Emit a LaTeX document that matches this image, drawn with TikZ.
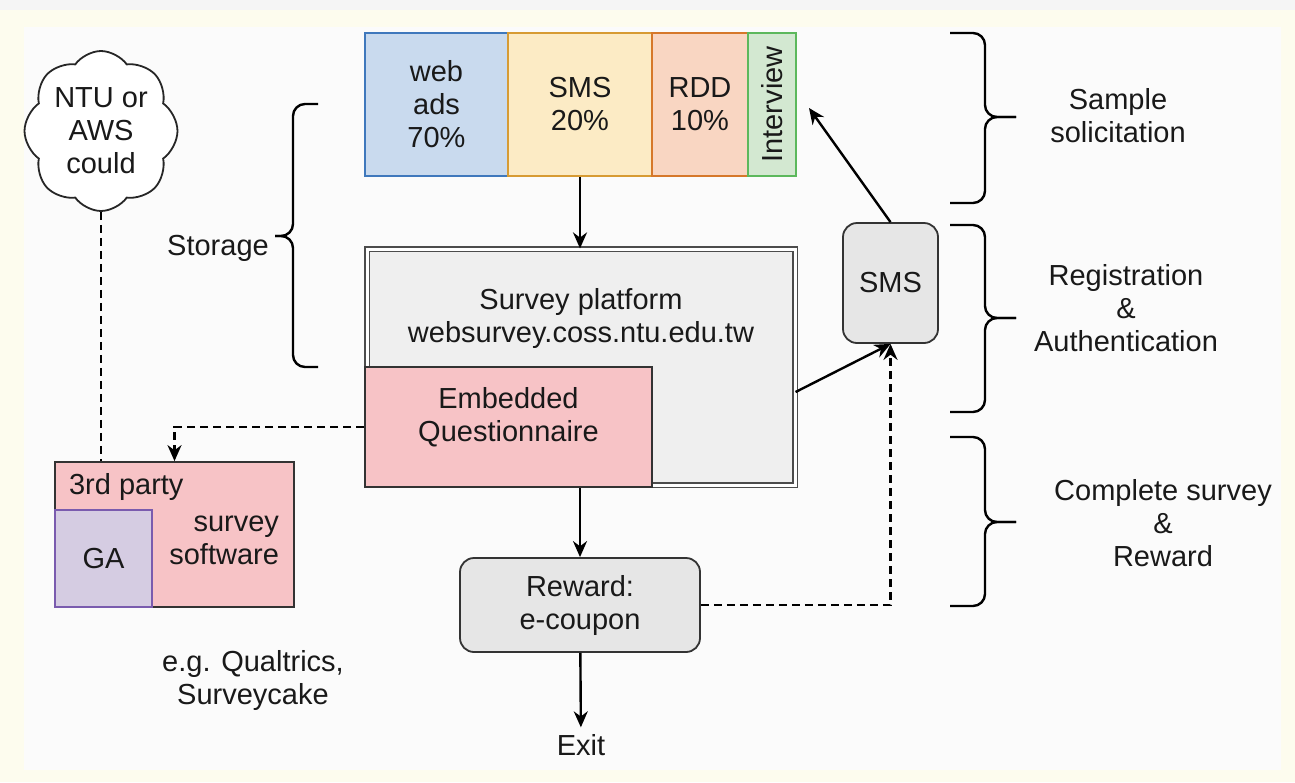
\documentclass[tikz,border=0pt]{standalone}
\usepackage{fontspec}
\setmainfont{Liberation Sans}
\usepackage{tikz}
\usetikzlibrary{arrows.meta,shapes.symbols}
\definecolor{bgcream}{HTML}{FDFCEE}
\definecolor{bginner}{HTML}{FBFBFB}
\definecolor{webfill}{HTML}{C9DAEE}
\definecolor{webline}{HTML}{3F78BC}
\definecolor{smsfill}{HTML}{FCEBC5}
\definecolor{smsline}{HTML}{D79B33}
\definecolor{rddfill}{HTML}{F9D6C2}
\definecolor{rddline}{HTML}{D6782A}
\definecolor{intvfill}{HTML}{D3E8D1}
\definecolor{intvline}{HTML}{5CB85C}
\definecolor{pfgray}{HTML}{EFEFEF}
\definecolor{boxgray}{HTML}{E6E6E6}
\definecolor{pinkfill}{HTML}{F7C3C6}
\definecolor{gafill}{HTML}{D5CCE2}
\definecolor{galine}{HTML}{7A5BAE}

\begin{document}
\begin{tikzpicture}[x=0.5pt,y=-0.5pt,
    >={Stealth[length=8pt,width=7pt]},
    every node/.style={font=\fontsize{14.5}{16.5}\selectfont, align=center, text=black!90},
    box/.style={draw=black!80, line width=0.9pt, inner sep=0pt},
    conn/.style={line width=1.2pt},
    dashconn/.style={line width=1.2pt, dash pattern=on 4pt off 2.5pt},
    bracket/.style={line width=1.2pt, rounded corners=6pt}]
        \useasboundingbox (0,0) rectangle (1295,782);
        \fill[black!4] (0,0) rectangle (1295,10);
        \fill[bgcream] (0,10) rectangle (1295,782);
        \fill[bginner] (24,27) rectangle (1281,770);

        \node[box, draw=webline, fill=webfill, minimum width=71.5pt, minimum height=71.5pt] (web) at (436.5,104.5) {web\\ads\\70\%};
        \node[box, draw=smsline, fill=smsfill, minimum width=72pt, minimum height=71.5pt] (smsbar) at (580,104.5) {SMS\\20\%};
        \node[box, draw=rddline, fill=rddfill, minimum width=48pt, minimum height=71.5pt] (rdd) at (700,104.5) {RDD\\10\%};
        \node[box, draw=intvline, fill=intvfill, rotate=90, minimum width=71.5pt, minimum height=24pt] (intv) at (772,104.5) {Interview};
        \coordinate (intvtip) at (809,108);

        \node[draw=black!70, line width=0.6pt, double, double distance=1.5pt, fill=pfgray, minimum width=214pt, minimum height=118pt] (platform) at (581,367) {};
        \node (pftext) at (581,318) {Survey platform\\websurvey.coss.ntu.edu.tw};
        \node[box, fill=pinkfill, text depth=13pt, minimum width=143.5pt, minimum height=60pt] (embq) at (508.5,427) {Embedded\\Questionnaire};

        \node[box, rounded corners=7pt, fill=boxgray, minimum width=120pt, minimum height=47pt] (reward) at (580,605) {Reward:\\e-coupon};
        \node (exit) at (581,745) {Exit};
        \node[box, rounded corners=7pt, fill=boxgray, minimum width=47.5pt, minimum height=60pt] (smsbox) at (890.5,283) {SMS};

        \node[box, fill=pinkfill, minimum width=119.5pt, minimum height=72.5pt] (third) at (174.5,534.5) {};
        \node[box, draw=galine, fill=gafill, minimum width=48.5pt, minimum height=48.5pt] (ga) at (103.5,558.5) {GA};
        \node[anchor=west] (thirdtxt) at (62,487) {3rd party};
        \node[anchor=east, align=right] (swtxt) at (286,540) {survey\\software};
        \node (egtxt) at (253,680) {e.g. Qualtrics,\\Surveycake};

        \node[draw=black!85, line width=0.9pt, cloud, cloud puffs=8, cloud puff arc=110, aspect=1.05, fill=white, inner sep=0pt, minimum width=76.5pt, minimum height=80pt] (cloud) at (101,131) {NTU or\\AWS\\could};

        \node (storage) at (218,248) {Storage};
        \node (solicit) at (1118,116) {Sample\\solicitation};
        \node (regist) at (1126,308) {Registration\\\&\\Authentication};
        \node (complete) at (1163,523) {Complete survey\\\&\\Reward};

        \draw[bracket] (318,104) -- (293,104) -- (293,236) -- (275,236);
        \draw[bracket] (318,367) -- (293,367) -- (293,236) -- (275,236);
        \foreach \t/\m/\b in {33/117/203, 225/318/412, 437/522/606} {
            \draw[bracket] (950,\t) -- (985,\t) -- (985,\m) -- (1016,\m);
            \draw[bracket] (950,\b) -- (985,\b) -- (985,\m) -- (1016,\m);
        }

        \draw[conn, ->] (smsbar.south) -- (smsbar.south |- platform.north);
        \draw[conn, ->] (reward.north |- embq.south) -- (reward.north);
        \draw[conn, ->] (reward) -- (exit);
        \draw[conn, ->] ([yshift=-12.5pt]platform.east) -- (smsbox.south);
        \draw[conn, ->] (smsbox.north) -- (intvtip);
        \draw[dashconn, ->] (reward.east) -| (smsbox.south);
        \draw[dashconn, ->] (embq.west) -| (third.north);
        \draw[dashconn] (cloud.south) -- (cloud.south |- third.north);
    \end{tikzpicture}
\end{document}
